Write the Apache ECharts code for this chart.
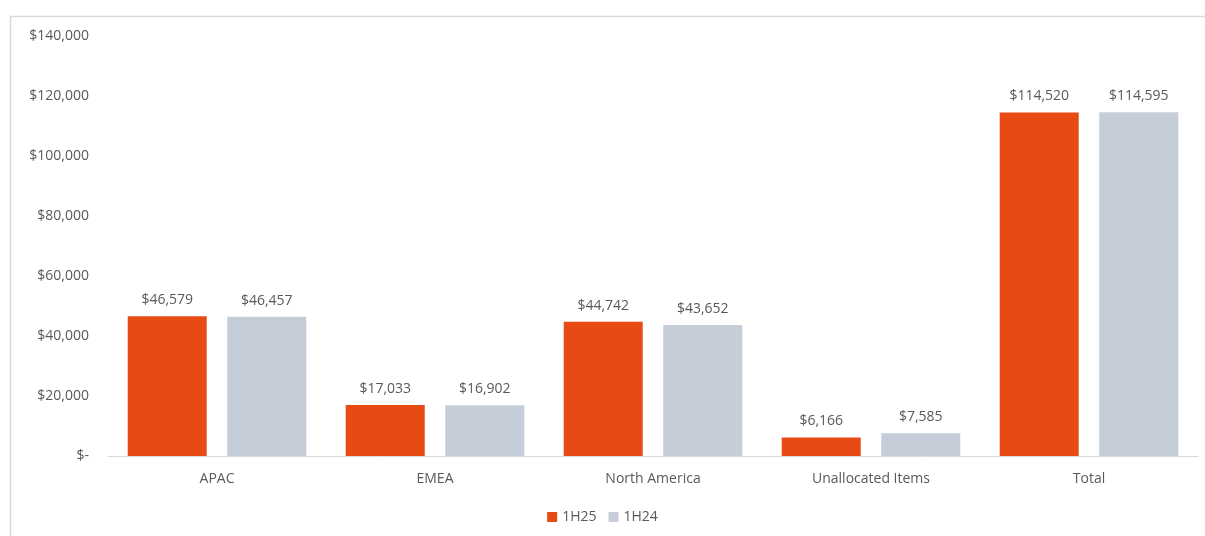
<!DOCTYPE html>
<html>
<head>
<meta charset="utf-8">
<script src="https://cdn.jsdelivr.net/npm/echarts@6/dist/echarts.min.js"></script>
<style>
  html, body { margin: 0; padding: 0; background: #ffffff; }
  #chart { width: 1205px; height: 536px; }
</style>
</head>
<body>
<div id="chart"></div>
<script>
// data
const categories = ['APAC', 'EMEA', 'North America', 'Unallocated Items', 'Total'];
const values1H25 = [46579, 17033, 44742, 6166, 114520];
const values1H24 = [46457, 16902, 43652, 7585, 114595];
const seriesNames = ['1H25', '1H24'];

const font = '"Open Sans", "Noto Sans", sans-serif';
const textColor = '#595959';

function money(v) {
  if (v === 0) return '$-';
  return '$' + v.toLocaleString('en-US');
}

const chart = echarts.init(document.getElementById('chart'), null, { renderer: 'canvas' });

chart.setOption({
  animation: false,
  textStyle: { fontFamily: font },
  graphic: [{
    type: 'rect',
    left: 8, top: 14,
    shape: { width: 1300, height: 600 },
    style: { fill: 'none', stroke: '#d9d9d9', lineWidth: 1.5 },
    silent: true
  }],
  grid: { left: 108, right: 7, top: 36, bottom: 80, containLabel: false },
  legend: {
    data: seriesNames,
    bottom: 7,
    left: 'center',
    itemWidth: 10,
    itemHeight: 10,
    itemGap: 12,
    icon: 'rect',
    textStyle: { color: textColor, fontSize: 14, fontFamily: font }
  },
  xAxis: {
    type: 'category',
    data: categories,
    axisLine: { lineStyle: { color: '#d9d9d9', width: 1 } },
    axisTick: { show: false },
    axisLabel: { color: textColor, fontSize: 14, margin: 16, fontFamily: font }
  },
  yAxis: {
    type: 'value',
    min: 0,
    max: 140000,
    interval: 20000,
    splitLine: { show: false },
    axisLine: { show: false },
    axisTick: { show: false },
    axisLabel: {
      color: textColor, fontSize: 14, margin: 19, fontFamily: font,
      formatter: money
    }
  },
  series: [
    {
      name: seriesNames[0],
      type: 'bar',
      data: values1H25,
      barWidth: 79,
      barGap: '26%',
      itemStyle: { color: '#e84a13' },
      label: {
        show: true, position: 'top', distance: 9,
        color: textColor, fontSize: 14, fontFamily: font,
        formatter: p => money(p.value)
      }
    },
    {
      name: seriesNames[1],
      type: 'bar',
      data: values1H24,
      barWidth: 79,
      barGap: '26%',
      itemStyle: { color: '#c5ced8' },
      label: {
        show: true, position: 'top', distance: 9,
        color: textColor, fontSize: 14, fontFamily: font,
        formatter: p => money(p.value)
      }
    }
  ]
});
</script>
</body>
</html>
